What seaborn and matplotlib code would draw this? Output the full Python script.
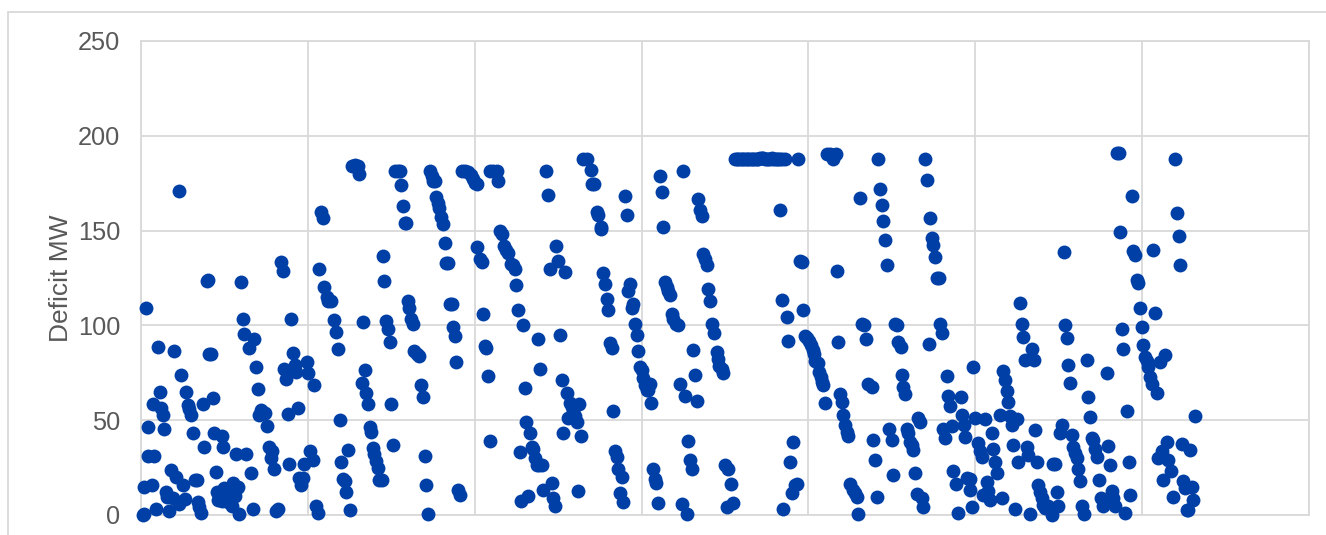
import pandas as pd
import seaborn as sns
import matplotlib.pyplot as plt
from matplotlib.patches import Rectangle

# values, one pair of lists per gridline cell
# (x has no labels on the chart, so it is kept as a plain sample position)
t1 = [2,3,5,3,11,7,7,13,12,17,19,20,22,23,15,25,26,28,30,35,33,32,38,44,42,38,40,45,47,48,50,52,54,56,57,58,60,62,63,66,67,68,70,72,73,75,76,77,79,81,81,82,83,86,87,89,91,92,94,97,96,95,98,100,102,103,105,108,110,112,113,115,117,118,120,122,124,126,128,131,130,133,135,137,140,142,143,145,147,148,150,152,154,155,157,158,160,162,163,166,167]
mw1 = [0,0.5,109,15,16,46.5,31,31,58.5,88.5,65,56.5,53,45.5,3,12,9.5,2,23.5,20,86.5,9,6,8.5,16,171,74,65,58,56,53,43,18.5,18.5,7,4,1,58.5,36,123.5,124,85,85,61.5,43,22.5,12,8,12,7.5,41.5,36,14,11,7,12,5,17,10,15,14,32,0.5,123,103.5,95.5,32,88,22,3,93,78,66.5,53,55.5,54,54,47,36,34,30,24,2,3,133.5,128.5,77,71.5,53.5,27,103.5,85.5,79,75.5,56.5,19.5,16,19.5,27,80.5,75]

t2 = [169,172,173,175,177,178,180,182,183,186,187,190,193,195,197,199,200,202,204,205,207,209,211,214,217,218,221,222,224,225,227,229,230,232,233,235,237,238,241,242,243,245,247,249,250,252,254,257,259,260,262,264,265,267,268,270,272,273,276,278,280,282,284,285,287,289,291,292,294,295,297,298,300,302,304,305,307,309,311,312,314,315,317,319,321,324,327,330,332]
mw2 = [34,29,68.5,5,1,130,160,156.5,120,115,113,113,103,96.5,87.5,50,28,19,18,12,34.5,2.5,184,184.5,184,180,69.5,102,76.5,64.5,58.5,46.5,44,35.5,32,28.5,25,18.5,18.5,136.5,123.5,102.5,98,91.5,58.5,37,181.5,181.5,181.5,174,163,154,154,113,109,103.5,101,86.5,85,84,68.5,62.5,31,16,0.5,181.5,179,176,176,167.5,164.5,162,157,153.5,143.5,133,133,111.5,111.5,99,94.5,80.5,13,10.5,181.5,181.5,181,179.5,177]

t3 = [334,336,336,339,341,342,344,345,347,349,349,352,356,357,359,361,363,365,367,370,372,374,375,377,379,382,380,387,384,385,389,391,392,394,396,398,401,397,399,402,405,407,409,411,412,414,415,417,419,421,422,424,426,427,429,431,432,434,436,438,437,440,442,446,450,451,453,456,457,460,460,462,464,466,467,469,471,472,474,476,477,481,479,482,484,486,487,489,491,492,494,496,497,499]
mw3 = [175,174.5,141.5,135,133.5,106,89,88,73.5,39,181.5,181.5,181.5,176,150,148,142,140,138,132.5,132,129.5,121.5,108,33,100,7.5,10,67,49,43.5,36,35,30,26.5,26.5,26.5,93,77,13,181.5,169,130,17,9,4.5,142,134,95,71,43,128,64.5,51,59,57,54.5,52,49,58.5,12.5,41.5,188,188,182,174.5,174.5,160,158,152,151,127.5,122,114,108,90.5,88,55,33.5,30.5,24,20,11.5,7,168,158,118,122,109,111.5,101,95,86.5,78]

t4 = [501,502,504,506,507,509,510,512,514,515,517,519,521,522,524,526,527,529,531,532,535,537,539,541,542,544,546,547,549,551,552,554,556,557,559,561,562,564,566,567,569,571,573,576,577,578,581,582,584,587,590,586,592,
      594,596,597,599,601,602,604,606,607,609,611,612,614,616,617,619,621,622,624,626,627,629,631,632,634,636,637,639,641,644,
      657,639,641,646,647,642,649,651,652,654,656,659,661,662,664,666]
mw4 = [76.5,72,68.5,66,66,69,59,24,19,17,6.5,179,170.5,152,123,120.5,118,116,106,103.5,100.5,100,69,6,181.5,63,0.5,39,29,24,87,74,60,166.5,161,157.5,137.5,135,132,119,113,100.5,96,86,82.5,78.5,77,75,26.5,24,16.5,4,6.5,
       188,188,188,188,188,188,188,188,188,188,188,188,188,188,188,188.5,188.5,188.5,188,188,188,188,188.5,188,188,188,188,188,188,188,
       188,161,113.5,104.5,92,3,28,11.5,38.5,16,16.5,134,133.5,108,94.5,93.5]

t5 = [668,670,672,673,674,677,678,680,681,682,684,686,689,692,695,696,697,699,701,702,704,706,707,709,712,714,716,717,719,721,723,725,727,731,732,734,736,737,739,741,742,744,746,748,751,752,754,756,757,760,761,762,764,766,767,769,771,772,774,777,779,776,781,782,784,786,789,791,792,794,796,798,799,801,788,802,804,806,807,809,811,812,815,817,820,821,823,824,826,829,829,831,832]
mw5 = [92,89.5,87,85,81,80,75.5,73,70,68.5,59,190.5,190.5,188,190.5,128.5,91.5,64,59.5,52.5,47.5,44,41.5,16.5,13,11.5,9.5,0.5,167,100.5,100,93,69,67.5,39.5,29,9.5,188,172,163.5,155,145,132,45.5,39.5,21,100.5,100,91.5,88.5,74,67.5,64,45.5,43,38.5,37,34.5,22,51,49,11,9,4,188,176.5,156.5,146,142.5,136,125,125,100.5,96,90,45.5,40.5,73.5,63,57.5,47,23,16.5,1,62,52.5,47.5,41,19.5,19,13,4,78]

t6 = [834,837,839,841,844,846,842,847,849,851,852,854,856,861,859,862,864,866,867,869,871,873,876,872,874,877,879,881,882,884,886,887,889,891,893,894,896,897,899,901,902,904,907,911,912,914,916,917,919,921,923,924,926,927,929,931,932,934,936,937,939,941,943,946,947,949,951,952,954,956,958,960,962,966,967,969,971,972,974,976,978,979,981,982,984,986,988,989,991,992,994,996,997,999]
mw6 = [51,38,34,30.5,50.5,17.5,10.5,12.5,8,43.5,35,28,22,9,53,76,71,65.5,59.5,52,47.5,50,50.5,37,3,28,112,100.5,94,82,36,31.5,0.5,87.5,82,45,28,16,12,9,5.5,3.5,4.5,0,27,27,12,5,43.5,47.5,138.5,100,93.5,79,69.5,42,36,32.5,30,24.5,18,4.5,0.5,82,62.5,51.5,40.5,39.5,35,30.5,18.5,9,4.5,75,36.5,26.5,12.5,9,4.5,191,191,149,98,87.5,1,55,28,10.5,168.5,139,137,124,122.5,109]

t7 = [1001,1002,1004,1006,1007,1009,1011,1016,1012,1014,1019,1024,1017,1021,1022,1026,1027,1030,1032,1034,1036,1038,1039,1041,1042,1044,1046,1047,1049,1051,1052,1054]
mw7 = [99,89.5,83.5,81,78,73,69,64.5,140,106.5,80.5,84.5,30,34,18.5,38.5,29,23,9.5,188,159.5,147,132,37.5,18,14,2.5,2.5,34.5,15,8,52]

y_ticks = [0, 50, 100, 150, 200, 250]
x_grid = [0, 167, 334, 500.5, 667, 834, 1001, 1168]

df = pd.DataFrame({
    'position': t1 + t2 + t3 + t4 + t5 + t6 + t7,
    'deficit': mw1 + mw2 + mw3 + mw4 + mw5 + mw6 + mw7,
})

sns.set_theme(style='white')
plt.rcParams['font.family'] = ['Liberation Sans', 'DejaVu Sans']

fig = plt.figure(figsize=(13.26, 5.35), dpi=100)
ax = fig.add_axes([141 / 1326, 1 - 515 / 535, 1168 / 1326, 474 / 535])

sns.scatterplot(data=df, x='position', y='deficit', color='#003FA5', s=100,
                linewidth=0, alpha=1, clip_on=False, zorder=3, ax=ax)

ax.set_xlim(0, 1168)
ax.set_ylim(0, 250)
ax.set_xticks(x_grid)
ax.set_yticks(y_ticks)
ax.set_xticklabels([])
ax.set_xlabel('')
ax.set_ylabel('Deficit MW', fontsize=19, color='#595959')
ax.yaxis.set_label_coords(-0.058, 0.5)
ax.grid(True, color='#D9D9D9', linewidth=1.3)
ax.set_axisbelow(True)
ax.tick_params(axis='both', length=0)
ax.tick_params(axis='y', labelsize=18.3, labelcolor='#595959', pad=15)
for spine in ax.spines.values():
    spine.set_color('#D9D9D9')
    spine.set_linewidth(1.3)

# chart area border, runs off the right and bottom of the crop
fig.add_artist(Rectangle((8 / 1326, -0.1), 1.1, 1.1 - 12 / 535, transform=fig.transFigure,
                         fill=False, edgecolor='#D9D9D9', linewidth=1.3))

fig.savefig('out.png', dpi=100)
plt.close(fig)
